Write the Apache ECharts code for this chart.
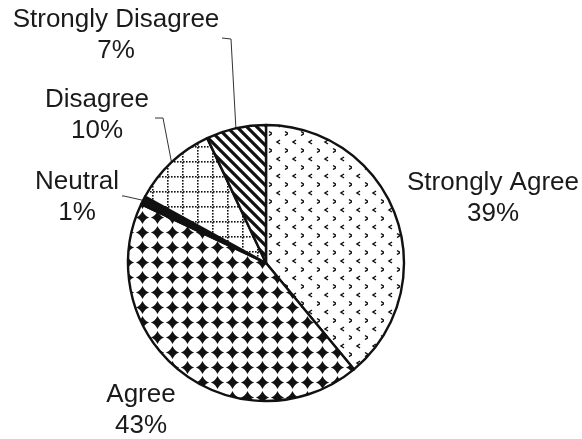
<!DOCTYPE html>
<html>
<head>
<meta charset="utf-8">
<script src="https://cdn.jsdelivr.net/npm/echarts@6/dist/echarts.min.js"></script>
<style>
html,body{margin:0;padding:0;background:#fff;}
#chart{width:582px;height:439px;}
</style>
</head>
<body>
<div id="chart"></div>
<script>
// Data
var categories = ['Strongly Agree', 'Agree', 'Neutral', 'Disagree', 'Strongly Disagree'];
var values = [39, 43, 1, 10, 7];

// Pattern makers
function mk(w, h, draw) {
  var c = document.createElement('canvas');
  c.width = w; c.height = h;
  var g = c.getContext('2d');
  g.fillStyle = '#fff'; g.fillRect(0, 0, w, h);
  g.fillStyle = '#111'; g.strokeStyle = '#111';
  draw(g, w, h);
  return c;
}
// chevrons < >
var patSA = mk(16, 17, function (g) {
  function chev(x, y, dir) {
    g.lineWidth = 1.5;
    g.beginPath();
    g.moveTo(x + (dir > 0 ? 0 : 3), y);
    g.lineTo(x + (dir > 0 ? 3 : 0), y + 2);
    g.lineTo(x + (dir > 0 ? 0 : 3), y + 4);
    g.stroke();
  }
  chev(5, 4, -1);
  chev(13, 12.5, 1);
});
// black 4-point diamonds
var patAgree = mk(15, 15, function (g) {
  function star(cx, cy) {
    var r = 6.6, q = 1.9;
    g.beginPath();
    g.moveTo(cx, cy - r);
    g.quadraticCurveTo(cx + q, cy - q, cx + r, cy);
    g.quadraticCurveTo(cx + q, cy + q, cx, cy + r);
    g.quadraticCurveTo(cx - q, cy + q, cx - r, cy);
    g.quadraticCurveTo(cx - q, cy - q, cx, cy - r);
    g.fill();
  }
  star(7.5, 7.5);
});
// dotted grid
var patDis = mk(15, 15, function (g) {
  for (var i = 0; i < 15; i += 3) {
    g.fillRect(2, i, 1.6, 1.6);
    g.fillRect(i, 11, 1.6, 1.6);
  }
});
// diagonal stripes \
var patSD = mk(10, 10, function (g) {
  g.lineWidth = 3.2;
  g.beginPath();
  g.moveTo(-2, -2); g.lineTo(12, 12);
  g.moveTo(-2, 8); g.lineTo(2, 12);
  g.moveTo(8, -2); g.lineTo(12, 2);
  g.stroke();
});

var fills = [
  { image: patSA, repeat: 'repeat' },
  { image: patAgree, repeat: 'repeat' },
  '#111',
  { image: patDis, repeat: 'repeat' },
  { image: patSD, repeat: 'repeat' }
];
var showLine = [false, false, true, true, true];

var labelPos = [[493, 198], [141, 410], [77, 197], [97, 115], [116, 35]];
var linePts = [null, null, [[124, 196], [122, 196]], [[163, 118], [155, 118]], [[231, 39], [222, 38]]];

var data = categories.map(function (n, i) {
  return {
    name: n,
    value: values[i],
    itemStyle: { color: fills[i] },
    labelLine: { show: showLine[i] }
  };
});

var chart = echarts.init(document.getElementById('chart'), null, { renderer: 'canvas' });
chart.setOption({
  backgroundColor: '#fff',
  animation: false,
  series: [{
    type: 'pie',
    center: [266, 263],
    radius: 138,
    startAngle: 90,
    clockwise: true,
    data: data,
    itemStyle: { borderColor: '#111', borderWidth: 2.4 },
    label: {
      show: true,
      position: 'outside',
      formatter: '{b}\n{d}%',
      fontFamily: 'Liberation Sans, Arial, sans-serif',
      fontSize: 26,
      lineHeight: 31,
      color: '#1a1a1a',
      align: 'center',
      overflow: 'none',
      width: 300
    },
    labelLine: {
      show: true,
      length: 10,
      length2: 10,
      lineStyle: { color: '#333', width: 1 }
    },
    labelLayout: function (p) {
      var i = p.dataIndex;
      var res = { x: labelPos[i][0], y: labelPos[i][1], align: 'center', verticalAlign: 'middle' };
      if (linePts[i] && p.labelLinePoints) {
        res.labelLinePoints = [p.labelLinePoints[0], linePts[i][0], linePts[i][1]];
      }
      return res;
    }
  }]
});
</script>
</body>
</html>
